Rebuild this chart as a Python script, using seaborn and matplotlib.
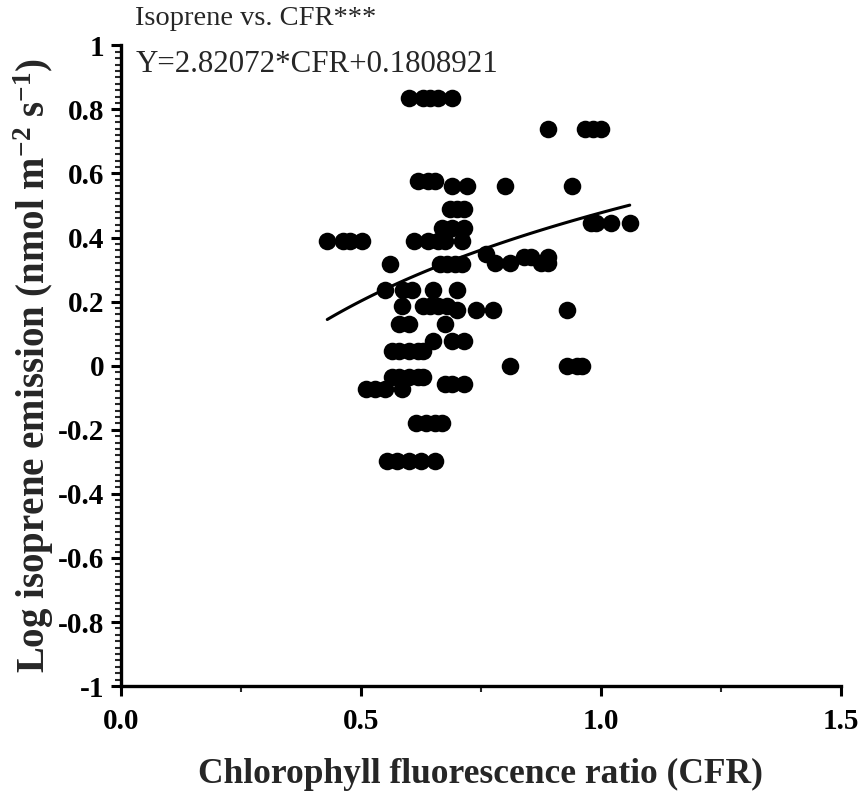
import numpy as np
import pandas as pd
import matplotlib
matplotlib.use("Agg")
import matplotlib.pyplot as plt
from matplotlib.ticker import MultipleLocator, AutoMinorLocator, FormatStrFormatter, FuncFormatter
import seaborn as sns

# Data (CFR, log isoprene emission)
cfr = [0.60, 0.63, 0.645, 0.66, 0.69,
       0.62, 0.64, 0.655, 0.69, 0.72, 0.80,
       0.685, 0.70, 0.715,
       0.67, 0.69, 0.715,
       0.43, 0.462, 0.477, 0.502, 0.61, 0.64, 0.66, 0.675, 0.71,
       0.56, 0.665, 0.68, 0.695, 0.71,
       0.76, 0.84, 0.855, 0.89,
       0.78, 0.81, 0.875, 0.89,
       0.89, 0.967, 0.983, 1.0,
       0.94,
       0.98, 0.99, 1.02, 1.06,
       0.55, 0.587, 0.606, 0.65, 0.70,
       0.585, 0.63, 0.645, 0.66, 0.68,
       0.70, 0.74, 0.775, 0.93,
       0.58, 0.60, 0.675,
       0.65, 0.69, 0.715,
       0.565, 0.58, 0.60, 0.62, 0.63,
       0.81, 0.93, 0.95, 0.96,
       0.565, 0.58, 0.60, 0.62, 0.63,
       0.675, 0.69, 0.715,
       0.51, 0.53, 0.55, 0.585,
       0.615, 0.635, 0.655, 0.67,
       0.555, 0.575, 0.60, 0.625, 0.655]
log_iso = [0.837, 0.837, 0.837, 0.837, 0.837,
           0.577, 0.577, 0.577, 0.56, 0.56, 0.56,
           0.49, 0.49, 0.49,
           0.43, 0.43, 0.43,
           0.39, 0.39, 0.39, 0.39, 0.39, 0.39, 0.39, 0.39, 0.39,
           0.318, 0.318, 0.318, 0.318, 0.318,
           0.35, 0.34, 0.34, 0.34,
           0.32, 0.32, 0.32, 0.32,
           0.74, 0.74, 0.74, 0.74,
           0.56,
           0.446, 0.446, 0.446, 0.446,
           0.236, 0.236, 0.236, 0.236, 0.236,
           0.187, 0.187, 0.187, 0.187, 0.187,
           0.175, 0.175, 0.175, 0.175,
           0.131, 0.131, 0.131,
           0.078, 0.078, 0.078,
           0.047, 0.047, 0.047, 0.047, 0.047,
           0.0, 0.0, 0.0, 0.0,
           -0.034, -0.034, -0.034, -0.034, -0.034,
           -0.056, -0.056, -0.056,
           -0.072, -0.072, -0.072, -0.072,
           -0.178, -0.178, -0.178, -0.178,
           -0.296, -0.296, -0.296, -0.296, -0.296]

slope = 2.82072
intercept = 0.1808921
fit_x = np.linspace(min(cfr), max(cfr), 100)
fit_y = np.log10(slope * fit_x + intercept)

df = pd.DataFrame({"CFR": cfr, "LogIso": log_iso})
fit_df = pd.DataFrame({"CFR": fit_x, "LogIso": fit_y})

sns.set_style("ticks")
plt.rcParams["font.family"] = ["Liberation Serif", "DejaVu Serif"]
plt.rcParams["mathtext.fontset"] = "custom"
plt.rcParams["mathtext.rm"] = "Liberation Serif"
plt.rcParams["mathtext.bf"] = "Liberation Serif:bold"

fig = plt.figure(figsize=(8.63, 7.95), dpi=100)
ax = fig.add_axes([0.140, 0.137, 0.8345, 0.806])

sns.scatterplot(data=df, x="CFR", y="LogIso", ax=ax, color="black",
                s=160, edgecolor="black", linewidth=0, zorder=3, legend=False)
sns.lineplot(data=fit_df, x="CFR", y="LogIso", ax=ax, color="black",
             linewidth=2.2, zorder=4)

ax.set_xlim(0, 1.5)
ax.set_ylim(-1, 1)
ax.xaxis.set_major_locator(MultipleLocator(0.5))
ax.xaxis.set_minor_locator(MultipleLocator(0.25))
ax.yaxis.set_major_locator(MultipleLocator(0.2))
ax.yaxis.set_minor_locator(AutoMinorLocator(10))
ax.xaxis.set_major_formatter(FormatStrFormatter("%.1f"))

def yfmt(v, pos):
    if abs(v) < 1e-9:
        return "0"
    if abs(abs(v) - 1) < 1e-9:
        return "%d" % round(v)
    return ("%.1f" % v)
ax.yaxis.set_major_formatter(FuncFormatter(yfmt))

for side in ["top", "right"]:
    ax.spines[side].set_visible(False)
for side in ["left", "bottom"]:
    ax.spines[side].set_linewidth(2.4)
    ax.spines[side].set_color("black")

ax.tick_params(axis="both", which="major", length=7, width=2.2, direction="out",
               labelsize=21, colors="black", pad=5)
ax.tick_params(axis="both", which="minor", length=4, width=1.5, direction="out")
ax.tick_params(axis="x", which="major", pad=9)
for lab in ax.get_xticklabels() + ax.get_yticklabels():
    lab.set_fontweight("bold")

ax.set_xlabel("Chlorophyll fluorescence ratio (CFR)", fontsize=25.5,
              fontweight="bold", labelpad=16)
ax.set_ylabel(r"Log isoprene emission (nmol m$\mathbf{^{-2}}$ s$\mathbf{^{-1}}$)",
              fontsize=28, fontweight="bold", labelpad=1)

fig.text(0.157, 0.977, "Isoprene vs. CFR***", fontsize=20.5, va="center", ha="left")
fig.text(0.157, 0.919, "Y=2.82072*CFR+0.1808921", fontsize=22.3, va="center", ha="left")

fig.savefig("out.png", dpi=100)
